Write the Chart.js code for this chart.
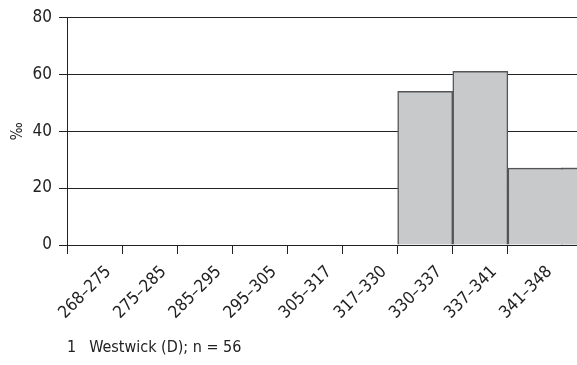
<!DOCTYPE html>
<html>
<head>
<meta charset="utf-8">
<script src="https://cdn.jsdelivr.net/npm/chart.js@4"></script>
<style>
  html, body { margin: 0; padding: 0; background: #fff; }
  #wrap { position: relative; width: 577px; height: 365px; }
  #caption {
    position: absolute; left: 67px; top: 337px;
    font-family: "Liberation Sans Narrow", "DejaVu Sans Condensed", sans-serif;
    font-size: 16px; color: #222; white-space: pre;
  }
  #caption span { margin-left: 13px; }
</style>
</head>
<body>
<div id="wrap">
  <canvas id="histChart" width="577" height="365"></canvas>
  <div id="caption">1<span>Westwick (D); n = 56</span></div>
</div>
<script>
// bins and share per bin (‰)
const binLabels = ["268–275", "275–285", "285–295", "295–305", "305–317", "317–330", "330–337", "337–341", "341–348"];
const binValues = [0, 0, 0, 0, 0, 0, 54, 61, 27];
const yTicks = [0, 20, 40, 60, 80];

const fontFamily = '"Liberation Sans Narrow", "DejaVu Sans Condensed", sans-serif';
const ink = "#222";
const barFill = "#c8c9cb";
const barEdge = "#555";

// same rounding chart.js uses for crisp lines
function align(p, w) {
    return Math.round(p - w / 2) + w / 2;
}

// the last bin in the source runs out to the right edge, so stretch it and the grid lines
const extendRight = {
    id: "extendRight",
    afterDatasetsDraw(chart) {
        const ctx = chart.ctx;
        const area = chart.chartArea;
        const yScale = chart.scales.y;
        const right = chart.width;
        ctx.save();
        ctx.strokeStyle = ink;
        ctx.lineWidth = 1;
        yTicks.forEach(t => {
            const y = align(yScale.getPixelForValue(t), 1);
            ctx.beginPath();
            ctx.moveTo(area.right, y);
            ctx.lineTo(right, y);
            ctx.stroke();
        });
        const meta = chart.getDatasetMeta(0);
        const last = meta.data[meta.data.length - 1];
        const bx = last.x + last.width / 2;
        const bw = 1.5;
        const inflate = 0.33; // bar elements are inflated a bit by chart.js
        const top = last.y - inflate;
        ctx.fillStyle = barFill;
        ctx.fillRect(bx - bw - 0.5, top + bw, right - bx + bw + 1, last.base - top - bw);
        ctx.fillStyle = barEdge;
        ctx.fillRect(bx - bw - 0.5, top, right - bx + bw + 1, bw);
        ctx.restore();
    }
};

new Chart(document.getElementById("histChart"), {
    type: "bar",
    data: {
        labels: binLabels,
        datasets: [{
            data: binValues,
            backgroundColor: barFill,
            borderColor: barEdge,
            borderWidth: 1.5,
            barPercentage: 1,
            categoryPercentage: 1
        }]
    },
    options: {
        responsive: false,
        animation: false,
        layout: { padding: { top: 16, right: 14, bottom: 0, left: 0 } },
        plugins: {
            legend: { display: false },
            tooltip: { enabled: false }
        },
        scales: {
            x: {
                offset: true,
                grid: {
                    offset: true,
                    drawOnChartArea: false,
                    drawTicks: true,
                    tickLength: 9,
                    lineWidth: 1,
                    // no tick at the far edge, the last bin keeps going
                    tickColor: c => (c.index === undefined || c.index >= binLabels.length ? "rgba(0,0,0,0)" : ink)
                },
                border: { color: ink, width: 1 },
                ticks: {
                    color: ink,
                    font: { family: fontFamily, size: 17 },
                    minRotation: 45,
                    maxRotation: 45,
                    autoSkip: false,
                    padding: 8,
                    labelOffset: 14
                },
                afterFit(scale) { scale.height = 120; }
            },
            y: {
                min: 0,
                max: 80,
                afterBuildTicks(scale) { scale.ticks = yTicks.map(v => ({ value: v })); },
                grid: {
                    color: ink,
                    lineWidth: 1,
                    tickLength: 8
                },
                border: { color: ink, width: 1 },
                ticks: {
                    color: ink,
                    font: { family: fontFamily, size: 17 },
                    padding: 7
                },
                title: {
                    display: true,
                    text: "‰",
                    color: ink,
                    font: { family: fontFamily, size: 15 },
                    padding: { top: 9, bottom: 0 }
                },
                afterFit(scale) { scale.width = 67; }
            }
        }
    },
    plugins: [extendRight]
});
</script>
</body>
</html>
